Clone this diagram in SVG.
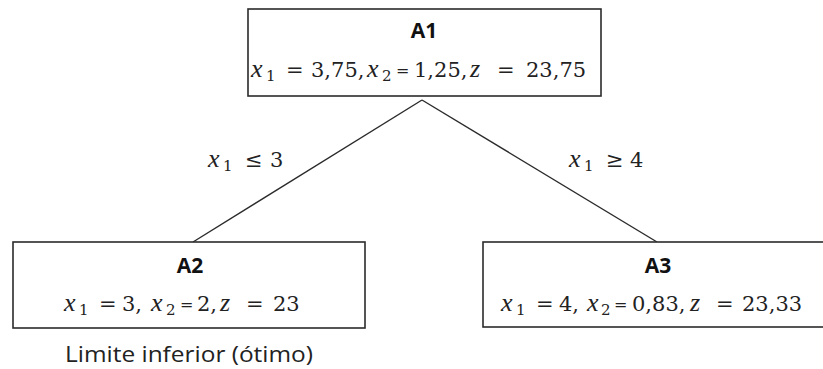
<svg xmlns="http://www.w3.org/2000/svg" width="823" height="369" viewBox="0 0 823 369">
<style>
.box{fill:#fff;stroke:#2b2b2b;stroke-width:1.6}
.edge{stroke:#2b2b2b;stroke-width:1.4;fill:none}
.title{font-family:"Open Sans","Liberation Sans",sans-serif;font-weight:bold;font-size:21px;fill:#111;text-anchor:middle}
.m{font-family:"DejaVu Serif","Liberation Serif",serif;font-size:21px;fill:#222}
.v{font-family:"Liberation Serif","DejaVu Serif",serif;font-style:italic;font-size:26px}
.s{font-size:15px}
.eq2{font-size:16px}
.note{font-family:"Open Sans","Liberation Sans",sans-serif;font-size:22px;fill:#222}
</style>
<rect width="823" height="369" fill="#fff"/>
<g id="connectors">
<line class="edge" x1="422" y1="100" x2="193" y2="242"/>
<line class="edge" x1="422" y1="100" x2="657" y2="242"/>
<text class="m" y="167"><tspan class="v" x="208">x</tspan><tspan class="s" x="223" y="171">1</tspan><tspan x="245" y="167">≤</tspan><tspan x="270" y="167">3</tspan></text>
<text class="m" y="167"><tspan class="v" x="569">x</tspan><tspan class="s" x="584" y="171">1</tspan><tspan x="606" y="167">≥</tspan><tspan x="630" y="167">4</tspan></text>
</g>
<g id="A1">
<rect class="box" x="248" y="9" width="353" height="87"/>
<text class="title" x="424" y="38">A1</text>
<text class="m" y="77"><tspan class="v" x="251">x</tspan><tspan class="s" x="266" y="81">1</tspan><tspan x="286" y="77">=</tspan><tspan x="311" y="77">3,75,</tspan><tspan class="v" x="367" y="77">x</tspan><tspan class="s" x="382" y="81">2</tspan><tspan class="eq2" x="396" y="76">=</tspan><tspan x="414" y="77">1,25,</tspan><tspan class="v" x="470" y="77">z</tspan><tspan x="497" y="77">=</tspan><tspan x="526" y="77">23,75</tspan></text>
</g>
<g id="A2">
<rect class="box" x="13" y="242" width="352" height="86"/>
<text class="title" x="190" y="273">A2</text>
<text class="m" y="311"><tspan class="v" x="64">x</tspan><tspan class="s" x="79" y="315">1</tspan><tspan x="99" y="311">=</tspan><tspan x="122" y="311">3,</tspan><tspan class="v" x="151" y="311">x</tspan><tspan class="s" x="166" y="315">2</tspan><tspan class="eq2" x="180" y="310">=</tspan><tspan x="197" y="311">2,</tspan><tspan class="v" x="220" y="311">z</tspan><tspan x="246" y="311">=</tspan><tspan x="273" y="311">23</tspan></text>
<text class="note" x="65" y="362" textLength="248" lengthAdjust="spacingAndGlyphs">Limite inferior (ótimo)</text>
</g>
<g id="A3">
<rect class="box" x="483" y="242" width="345" height="85"/>
<text class="title" x="658" y="273">A3</text>
<text class="m" y="311"><tspan class="v" x="501">x</tspan><tspan class="s" x="516" y="315">1</tspan><tspan x="536" y="311">=</tspan><tspan x="559" y="311">4,</tspan><tspan class="v" x="587" y="311">x</tspan><tspan class="s" x="601" y="315">2</tspan><tspan class="eq2" x="614" y="310">=</tspan><tspan x="632" y="311">0,83,</tspan><tspan class="v" x="690" y="311">z</tspan><tspan x="716" y="311">=</tspan><tspan x="742" y="311">23,33</tspan></text>
</g>
</svg>
